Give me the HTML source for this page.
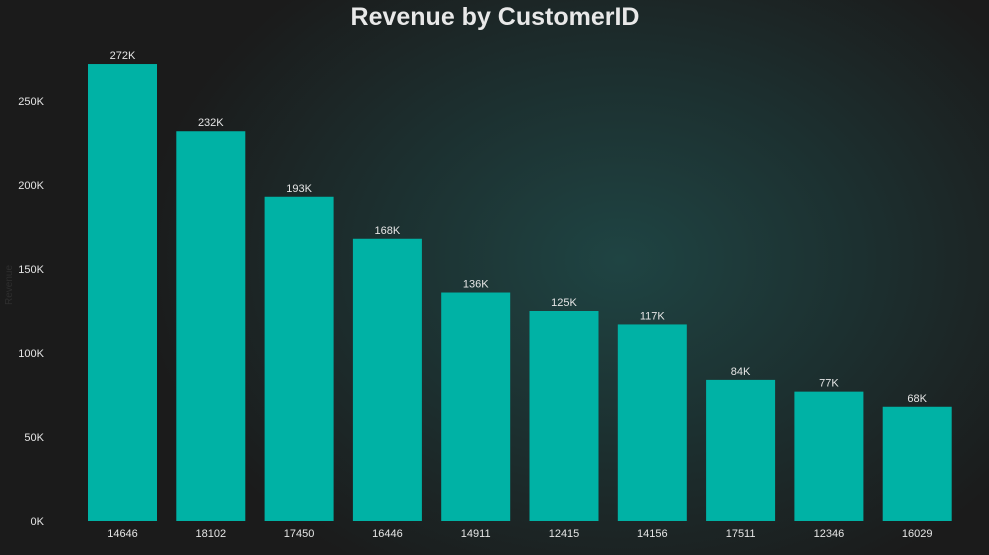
<!DOCTYPE html>
<html><head><meta charset="utf-8"><style>
html,body{margin:0;padding:0;width:989px;height:555px;overflow:hidden}
body{background:radial-gradient(ellipse 480px 360px at 620px 260px,#1f4443 0%,#1c2e2e 55%,#1b1b1b 100%),#1b1b1b;font-family:"Liberation Sans",sans-serif}
</style></head><body>
<svg id="chart" width="989" height="555" xmlns="http://www.w3.org/2000/svg">
<text x="495" y="25" text-anchor="middle" font-family="Liberation Sans, sans-serif" font-weight="bold" font-size="25" fill="#e8e8e8">Revenue by CustomerID</text>
<text transform="translate(12,285) rotate(-90)" text-anchor="middle" font-size="10" fill="#2e2e2e">Revenue</text>
<g id="yaxis"></g>
<g id="bars"></g>
</svg>
<script>
const categories=["14646","18102","17450","16446","14911","12415","14156","17511","12346","16029"];
const revenue=[272,232,193,168,136,125,117,84,77,68];
const valueLabels=["272K","232K","193K","168K","136K","125K","117K","84K","77K","68K"];
const yTicks=[0,50,100,150,200,250];
const yTickLabels=["0K","50K","100K","150K","200K","250K"];
const NS="http://www.w3.org/2000/svg";
const y0=521,pxPerK=1.68;
function y(v){return y0-v*pxPerK;}
function x(i){return 88+i*88.3;}
const bw=69;
const ya=document.getElementById('yaxis');
yTicks.forEach((t,i)=>{const e=document.createElementNS(NS,'text');


e.setAttribute('x',44);e.setAttribute('y',y(t)+4);e.setAttribute('text-anchor','end');
e.setAttribute('font-size','11');e.setAttribute('fill','#e6e6e6');e.textContent=yTickLabels[i];ya.appendChild(e);});
const g=document.getElementById('bars');
categories.forEach((c,i)=>{
const r=document.createElementNS(NS,'rect');


r.setAttribute('x',x(i));r.setAttribute('y',y(revenue[i]));r.setAttribute('width',bw);r.setAttribute('height',y0-y(revenue[i]));r.setAttribute('fill','#00b2a5');g.appendChild(r);
const l=document.createElementNS(NS,'text');


l.setAttribute('x',x(i)+bw/2);l.setAttribute('y',y(revenue[i])-5);l.setAttribute('text-anchor','middle');l.setAttribute('font-size','11');l.setAttribute('fill','#e6e6e6');l.textContent=valueLabels[i];g.appendChild(l);
const cl=document.createElementNS(NS,'text');


cl.setAttribute('x',x(i)+bw/2);cl.setAttribute('y',537);cl.setAttribute('text-anchor','middle');cl.setAttribute('font-size','11');cl.setAttribute('fill','#e6e6e6');cl.textContent=c;g.appendChild(cl);
});
</script>
</body></html>
